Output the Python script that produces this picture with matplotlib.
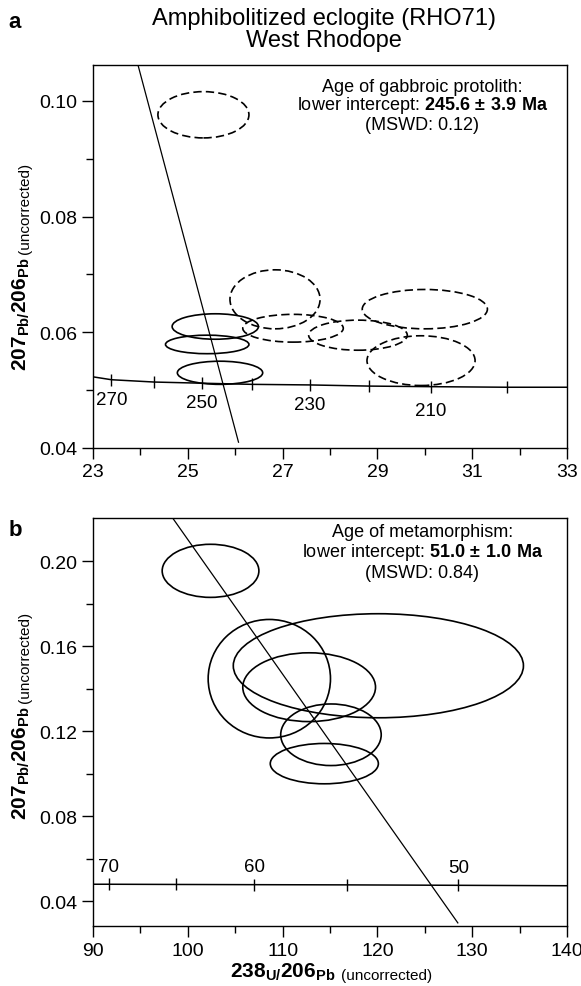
#!/usr/bin/env python3
# -*- coding: utf-8 -*-
"""
Tera-Wasserburg diagrams for RHO71 (amphibolitized eclogite, West Rhodope)
"""

import matplotlib
matplotlib.use('Agg')
import matplotlib.pyplot as plt
from matplotlib.patches import Ellipse
from matplotlib.ticker import FixedLocator, FormatStrFormatter

plt.rcParams['font.family'] = ['Liberation Sans', 'DejaVu Sans']
plt.rcParams['mathtext.fontset'] = 'custom'
plt.rcParams['mathtext.rm'] = 'Liberation Sans'
plt.rcParams['mathtext.bf'] = 'Liberation Sans:bold'

# ---------------- panel a : protolith ----------------
xticks_a = [23, 25, 27, 29, 31, 33]
xminor_a = [24, 26, 28, 30, 32]
yticks_a = [0.04, 0.06, 0.08, 0.10]
yminor_a = [0.05, 0.07, 0.09]

# concordia (238U/206Pb, 207Pb/206Pb)
conc_a_x = [23.0, 23.39, 24.29, 25.29, 26.36, 27.57, 28.82, 30.13, 31.73, 33.0]
conc_a_y = [0.0523, 0.0518, 0.0514, 0.0512, 0.0510, 0.0509, 0.0507, 0.0506, 0.0505, 0.0505]
tick_a_age = [270, 260, 250, 240, 230, 220, 210, 200]
tick_a_x = [23.39, 24.29, 25.29, 26.36, 27.57, 28.82, 30.13, 31.73]
tick_a_y = [0.0518, 0.0514, 0.0512, 0.0510, 0.0509, 0.0507, 0.0506, 0.0505]
label_a_age = [270, 250, 230, 210]

# analyses used in the regression (centre, half axes)
ell_a_x = [25.58, 25.41, 25.68]
ell_a_y = [0.0610, 0.0579, 0.0530]
ell_a_dx = [0.91, 0.88, 0.90]
ell_a_dy = [0.0022, 0.0016, 0.0020]

# excluded analyses (dashed)
exc_a_x = [25.33, 26.84, 27.22, 28.59, 30.00, 29.92]
exc_a_y = [0.0976, 0.0657, 0.0607, 0.0595, 0.0640, 0.0551]
exc_a_dx = [0.96, 0.95, 1.06, 1.04, 1.32, 1.14]
exc_a_dy = [0.0040, 0.0051, 0.0024, 0.0026, 0.0034, 0.0043]

disc_a_x = [23.95, 26.07]
disc_a_y = [0.1062, 0.0410]

# ---------------- panel b : metamorphism ----------------
xticks_b = [90, 100, 110, 120, 130, 140]
xminor_b = [95, 105, 115, 125, 135]
yticks_b = [0.04, 0.08, 0.12, 0.16, 0.20]
yminor_b = [0.06, 0.10, 0.14, 0.18]

conc_b_x = [90.0, 91.68, 98.79, 107.03, 116.84, 128.55, 140.0]
conc_b_y = [0.0479, 0.0479, 0.0478, 0.0477, 0.0476, 0.0474, 0.0472]
tick_b_age = [70, 65, 60, 55, 50]
tick_b_x = [91.68, 98.79, 107.03, 116.84, 128.55]
tick_b_y = [0.0479, 0.0478, 0.0477, 0.0476, 0.0474]
label_b_age = [70, 60, 50]

ell_b_x = [102.4, 108.6, 120.1, 112.8, 115.1, 114.4]
ell_b_y = [0.1955, 0.1447, 0.1508, 0.1407, 0.1183, 0.1047]
ell_b_dx = [5.1, 6.45, 15.3, 7.0, 5.3, 5.7]
ell_b_dy = [0.0125, 0.0279, 0.0245, 0.0162, 0.0145, 0.0095]

disc_b_x = [98.4, 128.48]
disc_b_y = [0.2204, 0.0297]


def style_axes(ax, xmaj, xmin, ymaj, ymin):
    ax.xaxis.set_major_locator(FixedLocator(xmaj))
    ax.xaxis.set_minor_locator(FixedLocator(xmin))
    ax.yaxis.set_major_locator(FixedLocator(ymaj))
    ax.yaxis.set_minor_locator(FixedLocator(ymin))
    ax.yaxis.set_major_formatter(FormatStrFormatter('%.2f'))
    ax.tick_params(which='major', direction='out', length=8, width=1.0,
                   labelsize=14, pad=3)
    ax.tick_params(which='minor', direction='out', length=5, width=1.0)
    for sp in ax.spines.values():
        sp.set_linewidth(1.0)


def draw_ellipses(ax, xs, ys, dxs, dys, ls):
    for x, y, dx, dy in zip(xs, ys, dxs, dys):
        ax.add_patch(Ellipse((x, y), 2 * dx, 2 * dy, fill=False,
                             edgecolor='black', linewidth=1.2, linestyle=ls))


def draw_ylabel(ax, x, y_split):
    ax.text(x, y_split, r'$\mathbf{207}_{\mathbf{Pb/}}\mathbf{206}_{\mathbf{Pb}}$',
            rotation=90, ha='center', va='top', fontsize=15,
            transform=ax.transAxes)
    ax.text(x + 0.008, y_split + 0.01, '(uncorrected)', rotation=90,
            ha='center', va='bottom', fontsize=11, transform=ax.transAxes)


def draw_age_text(ax, head, age, mswd, y0, x_c):
    ax.text(x_c, y0, head, ha='center', va='center', fontsize=13,
            transform=ax.transAxes)
    ax.text(x_c, y0 - 0.048, r'lower intercept: $\mathbf{' + age + '}$',
            ha='center', va='center', fontsize=13, transform=ax.transAxes)
    ax.text(x_c, y0 - 0.099, mswd, ha='center', va='center', fontsize=13,
            transform=ax.transAxes)


fig = plt.figure(figsize=(5.81, 9.87), dpi=100, facecolor='white')
ax1 = fig.add_axes([0.160, 0.5451, 0.816, 0.388])
ax2 = fig.add_axes([0.160, 0.0605, 0.816, 0.4137])

# ---- panel a ----
ax1.plot(conc_a_x, conc_a_y, color='black', linewidth=1.1)
ax1.plot(tick_a_x, tick_a_y, linestyle='none', marker='|', markersize=9,
         markeredgewidth=1.0, color='black')
for age, tx, ty in zip(tick_a_age, tick_a_x, tick_a_y):
    if age in label_a_age:
        dy = -17 if age == 210 else -14
        ax1.annotate(str(age), (tx, ty), xytext=(0, dy), textcoords='offset points',
                     ha='center', va='center', fontsize=13.5)
draw_ellipses(ax1, ell_a_x, ell_a_y, ell_a_dx, ell_a_dy, '-')
draw_ellipses(ax1, exc_a_x, exc_a_y, exc_a_dx, exc_a_dy, (0, (5, 2.5)))
ax1.plot(disc_a_x, disc_a_y, color='black', linewidth=0.9)
ax1.set_xlim(23, 33)
ax1.set_ylim(0.04, 0.1062)
style_axes(ax1, xticks_a, xminor_a, yticks_a, yminor_a)
draw_ylabel(ax1, -0.152, 0.50)
draw_age_text(ax1, 'Age of gabbroic protolith:', r'245.6\ ±\ 3.9\ Ma',
              '(MSWD: 0.12)', 0.945, 0.695)

# ---- panel b ----
ax2.plot(conc_b_x, conc_b_y, color='black', linewidth=1.1)
ax2.plot(tick_b_x, tick_b_y, linestyle='none', marker='|', markersize=9,
         markeredgewidth=1.0, color='black')
for age, tx, ty in zip(tick_b_age, tick_b_x, tick_b_y):
    if age in label_b_age:
        ax2.annotate(str(age), (tx, ty), xytext=(0, 13), textcoords='offset points',
                     ha='center', va='center', fontsize=13.5)
draw_ellipses(ax2, ell_b_x, ell_b_y, ell_b_dx, ell_b_dy, '-')
ax2.plot(disc_b_x, disc_b_y, color='black', linewidth=0.9)
ax2.set_xlim(90, 140)
ax2.set_ylim(0.0281, 0.2204)
style_axes(ax2, xticks_b, xminor_b, yticks_b, yminor_b)
draw_ylabel(ax2, -0.152, 0.54)
draw_age_text(ax2, 'Age of metamorphism:', r'51.0\ ±\ 1.0\ Ma',
              '(MSWD: 0.84)', 0.966, 0.695)

# x label of panel b
ax2.text(0.512, -0.122, r'$\mathbf{238}_{\mathbf{U/}}\mathbf{206}_{\mathbf{Pb}}$',
         ha='right', va='baseline', fontsize=15, transform=ax2.transAxes)
ax2.text(0.524, -0.129, '(uncorrected)', ha='left', va='baseline',
         fontsize=11, transform=ax2.transAxes)

# title and panel letters
fig.text(0.558, 1 - 30 / 987, 'Amphibolitized eclogite (RHO71)\nWest Rhodope',
         ha='center', va='center', fontsize=17, linespacing=1.0)
fig.text(0.015, 0.988, 'a', ha='left', va='top', fontsize=16, fontweight='bold')
fig.text(0.015, 1 - 530 / 987, 'b', ha='left', va='center', fontsize=16,
         fontweight='bold')

fig.savefig('out.png', dpi=100, facecolor='white')
plt.close(fig)
